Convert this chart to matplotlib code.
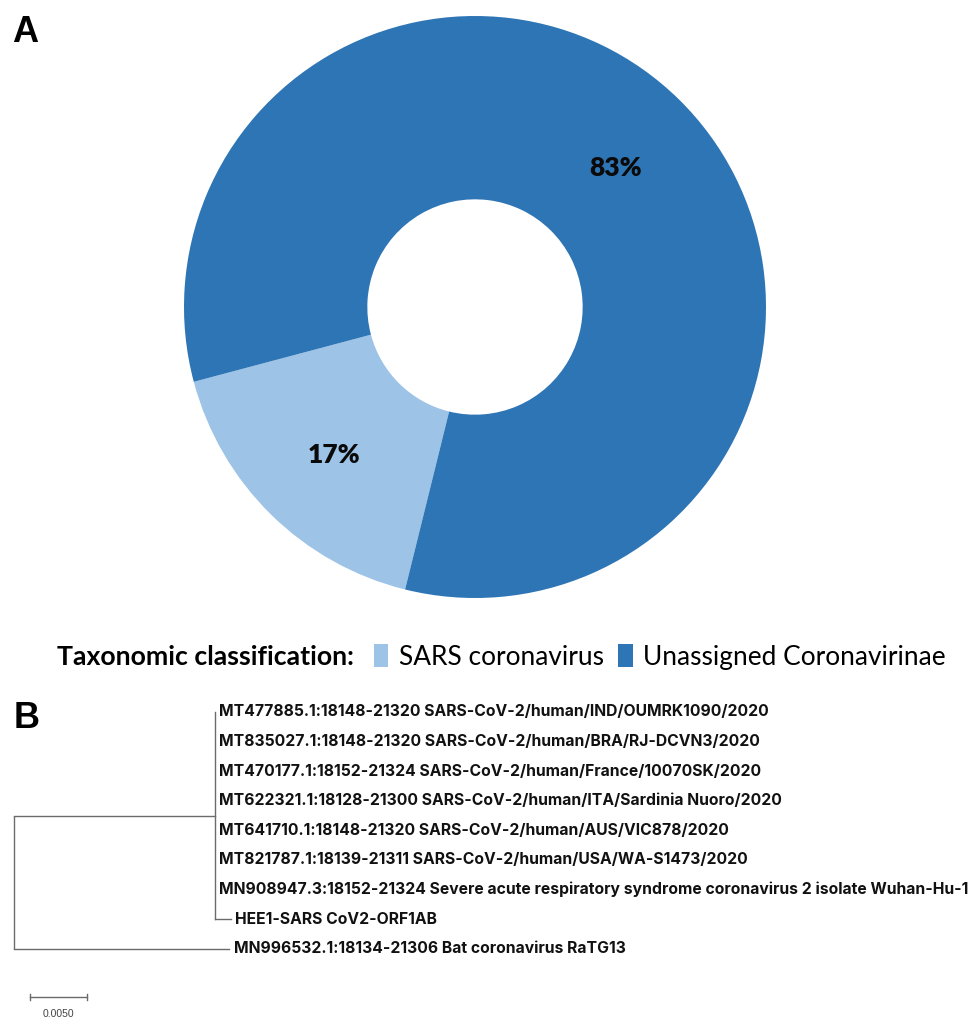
import matplotlib
matplotlib.use("Agg")
import matplotlib.pyplot as plt
from matplotlib.patches import Patch

# ---------------- data ----------------
categories = ["SARS coronavirus", "Unassigned Coronavirinae"]
shares = [17, 83]
colors = ["#9DC3E6", "#2E75B5"]
legend_title = "Taxonomic classification:"

leaf_names = [
    "MT477885.1:18148-21320 SARS-CoV-2/human/IND/OUMRK1090/2020",
    "MT835027.1:18148-21320 SARS-CoV-2/human/BRA/RJ-DCVN3/2020",
    "MT470177.1:18152-21324 SARS-CoV-2/human/France/10070SK/2020",
    "MT622321.1:18128-21300 SARS-CoV-2/human/ITA/Sardinia Nuoro/2020",
    "MT641710.1:18148-21320 SARS-CoV-2/human/AUS/VIC878/2020",
    "MT821787.1:18139-21311 SARS-CoV-2/human/USA/WA-S1473/2020",
    "MN908947.3:18152-21324 Severe acute respiratory syndrome coronavirus 2 isolate Wuhan-Hu-1",
    "HEE1-SARS CoV2-ORF1AB",
    "MN996532.1:18134-21306 Bat coronavirus RaTG13",
]
# branch lengths (substitutions/site)
clade_branch = 0.0176        # root -> SARS-CoV-2 clade node
clade_leaf_branches = [0, 0, 0, 0, 0, 0, 0, 0.0014]
outgroup_branch = 0.0189     # root -> RaTG13
scale_value = 0.0050
scale_label = "0.0050"

# ---------------- figure ----------------
W, H, DPI = 970, 1021, 100
fig = plt.figure(figsize=(W / DPI, H / DPI), dpi=DPI)
fig.patch.set_facecolor("white")

# ---- panel A: donut ----
cx, cy, R = 475, 307, 291
axA = fig.add_axes([(cx - R) / W, 1 - (cy + R) / H, 2 * R / W, 2 * R / H])
wedges, texts, autotexts = axA.pie(
    shares, colors=colors, startangle=194.9, counterclock=True,
    radius=1.0, wedgeprops=dict(width=0.63, linewidth=0),
    autopct=lambda p: f"{p:.0f}%", pctdistance=0.69,
    textprops=dict(fontsize=19, fontweight="heavy", color="#0a0a0a", family=["Lato", "DejaVu Sans"]),
)
for t in autotexts:
    t.set_y(t.get_position()[1] - 0.015)
axA.set_xlim(-1, 1)
axA.set_ylim(-1, 1)
axA.set_aspect("auto")
axA.axis("off")

fig.text(25 / W, 1 - 33 / H, "A", fontsize=26, fontweight="bold",
         family=["Liberation Sans", "DejaVu Sans"], ha="center", va="center")

# legend
fig.text(57 / W, 1 - 657 / H, legend_title, fontsize=19.2, fontweight="bold",
         family=["Lato", "DejaVu Sans"], ha="left", va="center")
handles = [Patch(facecolor=c, edgecolor="none") for c in colors]
fig.legend(handles, categories, loc="center left",
           bbox_to_anchor=(374 / W, 1 - 657 / H), ncol=2, frameon=False,
           handlelength=0.55, handleheight=0.95, handletextpad=0.4,
           columnspacing=0.55, borderaxespad=0, borderpad=0,
           prop=dict(family=["Lato", "DejaVu Sans"], size=18.9))

# ---- panel B: tree ----
fig.text(27 / W, 1 - 718 / H, "B", fontsize=26, fontweight="bold",
         family=["Liberation Sans", "DejaVu Sans"], ha="center", va="center")

px_per_unit = 57 / scale_value
root_px = 14
first_leaf_px, leaf_step_px = 712, 29.6
axB = fig.add_axes([0, 0, 1, 1])
axB.set_xlim(-root_px / px_per_unit, (W - root_px) / px_per_unit)
axB.set_ylim((H - first_leaf_px) / leaf_step_px, -first_leaf_px / leaf_step_px)
axB.axis("off")

lc = "#6b6b6b"
lw = 1.0
n_clade = len(leaf_names) - 1
clade_y = (0 + (n_clade - 1)) / 2
out_y = n_clade
# root vertical
axB.plot([0, 0], [clade_y, out_y], color=lc, lw=lw, solid_capstyle="butt")
# root -> clade
axB.plot([0, clade_branch], [clade_y, clade_y], color=lc, lw=lw)
# clade vertical
axB.plot([clade_branch, clade_branch], [0, n_clade - 1], color=lc, lw=lw)
label_kw = dict(fontsize=11.3, fontweight="bold", color="#111111",
                family=["Inter", "DejaVu Sans"], va="center", ha="left")
gap = 4 / px_per_unit
for i in range(n_clade):
    bl = clade_leaf_branches[i]
    x_end = clade_branch + bl
    if bl > 0:
        axB.plot([clade_branch, x_end], [i, i], color=lc, lw=lw)
    axB.text(x_end + gap, i, leaf_names[i], **label_kw)
# outgroup
axB.plot([0, outgroup_branch], [out_y, out_y], color=lc, lw=lw)
axB.text(outgroup_branch + gap + 1 / px_per_unit, out_y, leaf_names[-1], **label_kw)

# scale bar
sb_x0 = 16 / px_per_unit
sb_y = out_y + 48 / leaf_step_px
axB.plot([sb_x0, sb_x0 + scale_value], [sb_y, sb_y], color=lc, lw=lw)
tick = 3 / leaf_step_px
for xx in (sb_x0, sb_x0 + scale_value):
    axB.plot([xx, xx], [sb_y - tick, sb_y + tick], color=lc, lw=lw)
axB.text(sb_x0 + scale_value / 2, sb_y + 17 / leaf_step_px, scale_label,
         fontsize=7.5, color="#444444", ha="center", va="center",
         family=["Liberation Sans", "DejaVu Sans"])

fig.savefig("out.png", dpi=DPI, facecolor="white")
